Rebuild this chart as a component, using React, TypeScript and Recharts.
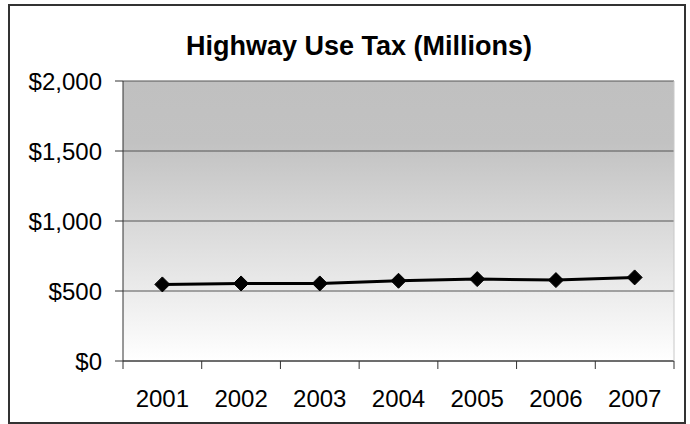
import React from "react";
import { LineChart, Line, XAxis, YAxis, CartesianGrid } from "recharts";

const years = ["2001", "2002", "2003", "2004", "2005", "2006", "2007"];
const highwayUseTax = [547, 554, 554, 573, 585, 578, 597];
const yTicks = [0, 500, 1000, 1500, 2000];

const data = years.map((year, i) => ({ year, tax: highwayUseTax[i] }));

const FONT = "Arial, 'Liberation Sans', sans-serif";

const formatDollar = (v: number) => "$" + v.toLocaleString("en-US");

function Diamond(props: any) {
  const { cx, cy, index } = props;
  if (cx == null || cy == null) return null;
  const h = 7.5;
  return (
    <polygon
      key={`d-${index}`}
      points={`${cx},${cy - h} ${cx + h},${cy} ${cx},${cy + h} ${cx - h},${cy}`}
      fill="#000"
      stroke="#000"
      strokeWidth={1}
    />
  );
}

function YearTick(props: any) {
  const { x, y, payload, index, visibleTicksCount } = props;
  const half = payload?.offset || 39.4;
  const last = index === (visibleTicksCount ?? years.length) - 1;
  return (
    <g>
      <line x1={x - half} y1={y} x2={x - half} y2={y + 8} stroke="#333" />
      {last && <line x1={x + half} y1={y} x2={x + half} y2={y + 8} stroke="#333" />}
      <text x={x} y={y + 29} dy="0.71em" textAnchor="middle" fill="#000" fontSize={24} fontFamily={FONT}>
        {payload.value}
      </text>
    </g>
  );
}

export default function App() {
  return (
    <div style={{ position: "absolute", left: 0, top: 0, width: 690, height: 424, background: "#fff" }}>
      <div
        style={{
          position: "absolute",
          left: 8,
          top: 4,
          width: 678,
          height: 420,
          border: "2px solid #333",
          boxSizing: "border-box",
        }}
      />
      <div
        style={{
          position: "absolute",
          left: 0,
          width: 718,
          top: 31,
          textAlign: "center",
          fontFamily: FONT,
          fontWeight: "bold",
          fontSize: 27,
          color: "#000",
        }}
      >
        Highway Use Tax (Millions)
      </div>
      <div style={{ position: "absolute", left: 0, top: 0 }}>
        <LineChart width={690} height={424} data={data} margin={{ top: 81, right: 15, left: 0, bottom: 0 }}>
          <defs>
            <linearGradient id="plotBg" x1="0" y1="0" x2="0" y2="1">
              <stop offset="0%" stopColor="#c0c0c0" />
              <stop offset="22%" stopColor="#c2c2c2" />
              <stop offset="100%" stopColor="#ffffff" />
            </linearGradient>
          </defs>
          <CartesianGrid
            vertical={false}
            stroke="#555"
            fill="url(#plotBg)"
            fillOpacity={1}
            yAxisId="left"
          />
          <XAxis
            dataKey="year"
            scale="band"
            height={63}
            tickLine={false}
            tickSize={0}
            tickMargin={0}
            axisLine={{ stroke: "#333" }}
            tick={<YearTick />}
            interval={0}
          />
          <YAxis
            yAxisId="left"
            width={123}
            domain={[0, 2000]}
            ticks={yTicks}
            tickFormatter={formatDollar}
            tickSize={8}
            tickMargin={13}
            tickLine={{ stroke: "#333" }}
            axisLine={{ stroke: "#333" }}
            tick={{ fill: "#000", fontSize: 24, fontFamily: FONT }}
            interval={0}
          />
          <YAxis
            yAxisId="right"
            orientation="right"
            width={1}
            domain={[0, 2000]}
            tick={false}
            tickLine={false}
            axisLine={{ stroke: "#c8c8c8" }}
          />
          <Line
            yAxisId="left"
            type="linear"
            dataKey="tax"
            stroke="#000"
            strokeWidth={3}
            dot={<Diamond />}
            activeDot={false}
            isAnimationActive={false}
          />
        </LineChart>
      </div>
    </div>
  );
}
